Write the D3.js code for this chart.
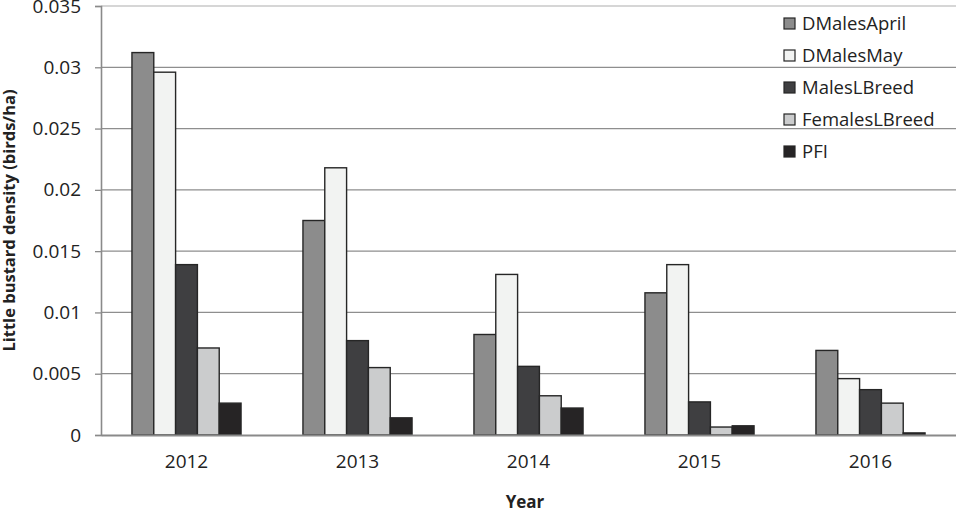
<!DOCTYPE html>
<html>
<head>
<meta charset="utf-8">
<script src="https://cdn.jsdelivr.net/npm/d3@7"></script>
<style>
  body { margin: 0; background: #fff; }
  svg { display: block; font-family: "Open Sans", sans-serif; }
</style>
</head>
<body>
<svg id="chart" width="956" height="510"></svg>
<script>
const years = ["2012", "2013", "2014", "2015", "2016"];
const series = ["DMalesApril", "DMalesMay", "MalesLBreed", "FemalesLBreed", "PFI"];
const colors = ["#8c8c8c", "#f2f3f2", "#3f3f41", "#cbcccd", "#262425"];
const dMalesApril   = [0.0312, 0.0175, 0.0082, 0.0116, 0.0069];
const dMalesMay     = [0.0296, 0.0218, 0.0131, 0.0139, 0.0046];
const malesLBreed   = [0.0139, 0.0077, 0.0056, 0.0027, 0.0037];
const femalesLBreed = [0.0071, 0.0055, 0.0032, 0.00065, 0.0026];
const pfi           = [0.0026, 0.0014, 0.0022, 0.00075, 0.00017];
const yTicks = [0, 0.005, 0.01, 0.015, 0.02, 0.025, 0.03, 0.035];

const values = [dMalesApril, dMalesMay, malesLBreed, femalesLBreed, pfi];
const rows = years.map((yr, i) => ({ year: yr, vals: series.map((s, j) => ({ key: s, v: values[j][i], c: colors[j] })) }));

const svg = d3.select("#chart");
const mLeft = 101, mRight = 956, mTop = 6, mBottom = 435;

const x0 = d3.scaleBand().domain(years).range([mLeft, mRight]);
const pad = x0.bandwidth() * 0.181;
const x1 = d3.scaleBand().domain(series).range([pad, x0.bandwidth() - pad]);
const y = d3.scaleLinear().domain([0, 0.035]).range([mBottom, mTop]);

// gridlines
svg.append("g").selectAll("line")
  .data(yTicks.filter(t => t > 0))
  .enter().append("line")
    .attr("x1", mLeft).attr("x2", mRight)
    .attr("y1", d => y(d)).attr("y2", d => y(d))
    .attr("stroke", d => d === 0.035 ? "#c8c8c8" : "#8e8e8e").attr("stroke-width", 1.3);

// y axis
const yAxis = svg.append("g").attr("transform", `translate(${mLeft},0)`)
  .call(d3.axisLeft(y).tickValues(yTicks).tickSize(6).tickPadding(14).tickFormat(d => d === 0 ? "0" : String(+d.toFixed(3))));
yAxis.select(".domain").attr("stroke", "#8a8a8a").attr("stroke-width", 1.6);
yAxis.selectAll(".tick line").attr("stroke", "#8a8a8a").attr("stroke-width", 1.3);
yAxis.selectAll("text").attr("font-size", 19).attr("fill", "#222").attr("font-family", "Open Sans");

// bars
const groups = svg.append("g").selectAll("g")
  .data(rows).enter().append("g")
    .attr("transform", d => `translate(${x0(d.year)},0)`);
groups.selectAll("rect")
  .data(d => d.vals).enter().append("rect")
    .attr("x", d => x1(d.key))
    .attr("width", x1.bandwidth())
    .attr("y", d => y(d.v))
    .attr("height", d => mBottom - y(d.v))
    .attr("fill", d => d.c)
    .attr("stroke", "#262626").attr("stroke-width", 1.4);

// x axis
const xAxis = svg.append("g").attr("transform", `translate(0,${mBottom})`)
  .call(d3.axisBottom(x0).tickSize(0).tickPadding(20));
xAxis.select(".domain").attr("stroke", "#8a8a8a").attr("stroke-width", 2);
xAxis.selectAll("text").attr("font-size", 19).attr("fill", "#222").attr("font-family", "Open Sans");

// axis titles
svg.append("text")
  .attr("transform", `translate(15,${(mTop + mBottom) / 2}) rotate(-90)`)
  .attr("text-anchor", "middle").attr("font-size", 16.5).attr("font-weight", 700).attr("fill", "#222")
  .text("Little bustard density (birds/ha)");
svg.append("text")
  .attr("x", 525).attr("y", 508)
  .attr("text-anchor", "middle").attr("font-size", 17).attr("font-weight", 700).attr("fill", "#222")
  .text("Year");

// legend
const legend = svg.append("g").selectAll("g")
  .data(series).enter().append("g")
    .attr("transform", (d, i) => `translate(784,${24 + i * 32})`);
legend.append("rect")
  .attr("x", 0).attr("y", -6).attr("width", 11).attr("height", 11)
  .attr("fill", (d, i) => colors[i]).attr("stroke", "#262626").attr("stroke-width", 1.2);
legend.append("text")
  .attr("x", 18).attr("y", 0).attr("dy", "0.35em")
  .attr("font-size", 18.5).attr("fill", "#222")
  .text(d => d);
</script>
</body>
</html>
